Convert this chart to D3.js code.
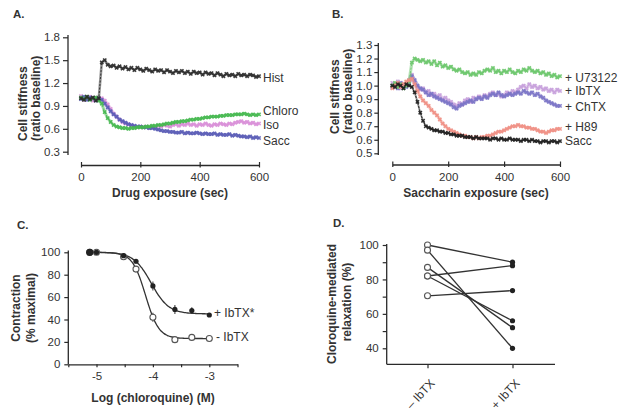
<!DOCTYPE html>
<html><head><meta charset="utf-8">
<script src="https://cdn.jsdelivr.net/npm/d3@7"></script>
<style>
body{margin:0;background:#fff}
svg{display:block;font-family:"Liberation Sans",Arial,sans-serif}
</style></head><body>
<svg id="c" width="624" height="411"></svg>
<script>
// ---------- Panel A data (sampled every 10 s, 0..600) ----------
const timesA = d3.range(0, 601, 10);
const histA = [
1.00,0.98,1.02,0.99,1.01,0.97,1.00,1.47,1.50,1.44,
1.42,1.43,1.40,1.42,1.39,1.41,1.38,1.40,1.37,1.40,
1.38,1.36,1.39,1.37,1.35,1.38,1.36,1.37,1.34,1.37,
1.35,1.33,1.36,1.34,1.36,1.33,1.35,1.32,1.35,1.33,
1.34,1.31,1.34,1.32,1.33,1.30,1.33,1.31,1.29,1.32,
1.30,1.31,1.29,1.32,1.30,1.31,1.29,1.31,1.30,1.28,
1.29];
const chloroA = [
1.01,0.99,1.02,0.98,1.00,1.01,0.97,0.93,0.82,0.74,
0.69,0.65,0.63,0.62,0.61,0.61,0.60,0.61,0.61,0.62,
0.62,0.62,0.63,0.63,0.64,0.64,0.65,0.65,0.66,0.67,
0.67,0.68,0.69,0.69,0.70,0.70,0.71,0.72,0.72,0.73,
0.73,0.74,0.75,0.75,0.76,0.76,0.76,0.77,0.77,0.78,
0.78,0.78,0.79,0.79,0.79,0.80,0.79,0.78,0.79,0.78,
0.79];
const isoA = [
1.03,0.98,1.00,1.02,0.97,1.01,0.99,1.00,0.97,0.92,
0.86,0.80,0.76,0.72,0.69,0.67,0.66,0.64,0.63,0.62,
0.63,0.62,0.63,0.61,0.63,0.62,0.64,0.63,0.65,0.64,
0.63,0.65,0.66,0.64,0.66,0.65,0.67,0.65,0.66,0.64,
0.66,0.65,0.67,0.65,0.64,0.66,0.65,0.67,0.66,0.65,
0.67,0.66,0.68,0.69,0.70,0.68,0.69,0.67,0.68,0.66,
0.67];
const saccA = [
0.99,1.02,0.98,1.01,1.00,0.97,1.00,0.98,0.93,0.88,
0.83,0.79,0.76,0.72,0.70,0.68,0.66,0.65,0.64,0.63,
0.63,0.62,0.62,0.61,0.61,0.60,0.59,0.58,0.57,0.57,
0.56,0.56,0.55,0.55,0.56,0.54,0.55,0.54,0.54,0.55,
0.54,0.53,0.54,0.53,0.53,0.54,0.52,0.53,0.52,0.52,
0.53,0.51,0.52,0.51,0.50,0.50,0.49,0.50,0.48,0.49,
0.48];
const ticksAy = [0.3, 0.6, 0.9, 1.2, 1.5, 1.8];
const ticksTime = [0, 200, 400, 600];

// ---------- Panel B data ----------
const timesB = d3.range(0, 601, 10);
const u73122B = [
1.00,1.02,0.99,1.01,0.98,1.00,1.03,1.17,1.20,1.19,
1.18,1.19,1.17,1.18,1.16,1.18,1.15,1.17,1.14,1.15,
1.13,1.14,1.12,1.11,1.12,1.10,1.09,1.10,1.08,1.09,
1.08,1.10,1.09,1.11,1.12,1.11,1.13,1.10,1.11,1.09,
1.11,1.10,1.12,1.10,1.09,1.11,1.10,1.12,1.11,1.13,
1.11,1.10,1.11,1.09,1.10,1.08,1.09,1.07,1.08,1.06,
1.07];
const ibtxB = [
1.02,0.99,1.03,0.98,1.01,1.00,1.04,1.08,1.02,0.99,
0.97,0.98,0.95,0.96,0.93,0.94,0.92,0.93,0.90,0.91,
0.89,0.88,0.86,0.85,0.87,0.86,0.89,0.90,0.88,0.91,
0.90,0.92,0.91,0.93,0.92,0.94,0.95,0.93,0.94,0.92,
0.93,0.95,0.94,0.96,0.95,0.97,0.99,1.00,0.98,1.01,
0.99,1.00,0.98,0.99,0.97,0.98,0.96,0.97,0.95,0.97,
0.96];
const chtxB = [
0.99,1.01,0.98,1.02,1.00,0.99,1.02,1.07,1.04,1.00,
0.98,0.97,0.95,0.93,0.94,0.92,0.91,0.90,0.89,0.88,
0.87,0.86,0.84,0.83,0.85,0.86,0.87,0.88,0.89,0.88,
0.90,0.91,0.90,0.92,0.91,0.93,0.94,0.93,0.95,0.93,
0.92,0.93,0.94,0.93,0.94,0.95,0.94,0.96,0.95,0.94,
0.95,0.93,0.94,0.92,0.91,0.89,0.88,0.87,0.86,0.85,
0.85];
const h89B = [
0.98,1.00,1.02,0.99,1.01,1.03,1.04,1.05,1.01,0.96,
0.92,0.89,0.87,0.85,0.82,0.80,0.78,0.75,0.72,0.70,
0.68,0.67,0.66,0.65,0.64,0.63,0.63,0.62,0.62,0.61,
0.62,0.61,0.62,0.62,0.63,0.63,0.64,0.65,0.66,0.66,
0.67,0.68,0.69,0.70,0.70,0.71,0.70,0.70,0.69,0.69,
0.68,0.68,0.67,0.66,0.66,0.65,0.66,0.67,0.67,0.68,
0.68];
const saccB = [
1.00,0.99,1.01,1.00,0.98,1.01,1.00,0.99,0.95,0.88,
0.80,0.74,0.70,0.69,0.68,0.67,0.67,0.66,0.66,0.65,
0.65,0.64,0.64,0.63,0.63,0.63,0.62,0.62,0.62,0.61,
0.62,0.61,0.61,0.61,0.61,0.60,0.61,0.61,0.60,0.61,
0.60,0.60,0.61,0.60,0.60,0.60,0.59,0.60,0.60,0.59,
0.60,0.59,0.59,0.58,0.59,0.59,0.58,0.59,0.59,0.58,
0.59];
const ticksBy = [0.5, 0.6, 0.7, 0.8, 0.9, 1.0, 1.1, 1.2, 1.3];

// ---------- Panel C data ----------
const logConc = [-5.12, -5.0, -4.52, -4.3, -4.0, -3.61, -3.31, -3.0];
const plusIbTX = [100, 100, 97, 92, 70, 49, 48, 44];
const plusErr  = [0, 0, 2, 2, 4, 4, 3, 1];
const minusIbTX = [100, 100, 96, 85, 42, 22, 24, 23];
const minusErr  = [0, 0, 2, 2, 4, 1, 1, 1];
// fitted sigmoid (top, bottom, logEC50, Hill slope) of each curve
const fitPlus  = [100, 45, -4.03, 2.8];
const fitMinus = [100, 23, -4.13, 3.7];
const ticksCx = [-5.5, -5, -4.5, -4, -3.5, -3, -2.5];
const labelsCx = [-5, -4, -3];
const ticksCy = [0, 20, 40, 60, 80, 100];

// ---------- Panel D data ----------
const groupsD = ["– IbTX", "+ IbTX"];
const beforeD = [100, 97, 87, 82, 82, 70.5];
const afterD  = [90, 40, 52, 88, 56, 73.5];
const ticksDy = [40, 50, 60, 70, 80, 90, 100];
const labelsDy = [40, 60, 80, 100];

// ---------- drawing ----------
const svg = d3.select("#c");
const TXT = "#333", AX = "#2a2a2a";
const FS = 11.5;

function styleAxis(g){
  g.select(".domain").attr("stroke", AX).attr("stroke-width", 1.3);
  g.selectAll(".tick line").attr("stroke", AX).attr("stroke-width", 1.2);
  g.selectAll(".tick text").attr("fill", TXT).style("font-size", FS + "px")
    .style("font-family", '"Liberation Sans",Arial,sans-serif');
}
function title(x, y, txt, opt = {}){
  const t = svg.append("text").attr("x", x).attr("y", y).text(txt)
    .attr("fill", opt.fill || TXT).style("font-size", (opt.fs || FS) + "px")
    .style("font-weight", opt.bold === false ? "normal" : "bold")
    .attr("text-anchor", opt.anchor || "middle");
  if (opt.rot) t.attr("transform", `rotate(${opt.rot},${x},${y})`);
  return t;
}
function drawSeries(x, y, times, vals, color, width){
  const pts = times.map((t, i) => [t, vals[i]]);
  const line = d3.line().x(d => x(d[0])).y(d => y(d[1]));
  svg.append("path").attr("d", line(pts)).attr("fill", "none")
    .attr("stroke", color).attr("stroke-width", width).attr("stroke-opacity", 0.5)
    .attr("stroke-linejoin", "round");
  svg.append("path").attr("d", line(pts)).attr("fill", "none")
    .attr("stroke", color).attr("stroke-width", 1).attr("stroke-opacity", 0.9)
    .attr("stroke-dasharray", "2,1.5");
  const sym = d3.symbol().type(d3.symbolCross).size(12);
  svg.append("g").selectAll("path").data(pts).join("path")
    .attr("d", sym).attr("transform", d => `translate(${x(d[0])},${y(d[1])}) rotate(45)`)
    .attr("fill", color).attr("fill-opacity", 0.9);
}

// ===== Panel A =====
const xA = d3.scaleLinear([0, 600], [81, 259]);
const yA = d3.scaleLinear([0.3, 1.8], [151.7, 37.3]);
{
  const gy = svg.append("g").attr("transform", "translate(68,0)")
    .call(d3.axisLeft(yA).tickValues(ticksAy).tickFormat(d3.format(".1f")).tickSize(5).tickPadding(3).tickSizeOuter(0));
  gy.select(".domain").attr("d", "M0,35V155");
  styleAxis(gy);
  const gx = svg.append("g").attr("transform", "translate(0,165)")
    .call(d3.axisBottom(xA).tickValues(ticksTime).tickSize(3).tickPadding(5).tickSizeOuter(0));
  gx.selectAll(".tick line").attr("y1", -3).attr("y2", 2.5);
  styleAxis(gx);
  drawSeries(xA, yA, timesA, isoA, "#d98fd8", 3.2);
  drawSeries(xA, yA, timesA, saccA, "#5a5cb6", 3.2);
  drawSeries(xA, yA, timesA, chloroA, "#45b84f", 3);
  drawSeries(xA, yA, timesA, histA, "#2b2b2b", 2.6);
  const lab = [["Hist", 77], ["Chloro", 110], ["Iso", 124], ["Sacc", 140]];
  lab.forEach(([t, yy]) => title(263, yy + 4.5, t, {bold: false, anchor: "start", fs: 12}));
  title(13, 18, "A.", {anchor: "start", fs: 11.5});
  title(170, 197, "Drug exposure (sec)", {fs: 12});
  title(27, 141, "Cell stiffness", {rot: -90, anchor: "start", fs: 12});
  title(40, 141, "(ratio baseline)", {rot: -90, anchor: "start", fs: 12});
}

// ===== Panel B =====
const xB = d3.scaleLinear([0, 600], [392.3, 560]);
const yB = d3.scaleLinear([0.5, 1.3], [153.3, 45]);
{
  const gy = svg.append("g").attr("transform", "translate(378.3,0)")
    .call(d3.axisLeft(yB).tickValues(ticksBy).tickFormat(d3.format(".1f")).tickSize(4).tickPadding(2).tickSizeOuter(0));
  gy.select(".domain").attr("d", "M0,43V155");
  styleAxis(gy);
  const gx = svg.append("g").attr("transform", "translate(0,164.5)")
    .call(d3.axisBottom(xB).tickValues(ticksTime).tickSize(3).tickPadding(5).tickSizeOuter(0));
  gx.selectAll(".tick line").attr("y1", -3).attr("y2", 2.5);
  styleAxis(gx);
  drawSeries(xB, yB, timesB, ibtxB, "#c7a0dc", 3.8);
  drawSeries(xB, yB, timesB, chtxB, "#7b74c6", 3.8);
  drawSeries(xB, yB, timesB, u73122B, "#6cc66c", 3.2);
  drawSeries(xB, yB, timesB, h89B, "#ef8f84", 3.2);
  drawSeries(xB, yB, timesB, saccB, "#1e1e1e", 1.8);
  const lab = [["+ U73122", 77], ["+ IbTX", 90], ["+ ChTX", 106], ["+ H89", 126.5], ["Sacc", 140.5]];
  lab.forEach(([t, yy]) => title(565, yy + 4.5, t, {bold: false, anchor: "start", fs: 12}));
  title(332, 18, "B.", {anchor: "start", fs: 11.5});
  title(476, 197, "Saccharin exposure (sec)", {fs: 12});
  title(339, 134, "Cell stiffness", {rot: -90, anchor: "start", fs: 12});
  title(351.5, 134, "(ratio baseline)", {rot: -90, anchor: "start", fs: 12});
}

// ===== Panel C =====
const xC = d3.scaleLinear([-5.5, -2.5], [68.3, 237.5]);
const yC = d3.scaleLinear([0, 100], [364.3, 252.3]);
{
  const gy = svg.append("g").attr("transform", "translate(68.3,0)")
    .call(d3.axisLeft(yC).tickValues(ticksCy).tickSize(4).tickPadding(4).tickSizeOuter(0));
  gy.select(".domain").attr("d", "M0,250.5V364.3");
  styleAxis(gy);
  const gx = svg.append("g").attr("transform", "translate(0,364.3)")
    .call(d3.axisBottom(xC).tickValues(ticksCx).tickSize(3).tickPadding(5).tickSizeOuter(0)
      .tickFormat(d => labelsCx.includes(d) ? d3.format("d")(d).replace("−", "-") : ""));
  styleAxis(gx);
  const hill = p => v => p[1] + (p[0] - p[1]) / (1 + Math.pow(10, (v - p[2]) * p[3]));
  const grid = d3.range(logConc[0], logConc[logConc.length - 1] + 0.001, 0.02);
  const line = d3.line().x(d => xC(d)).curve(d3.curveMonotoneX);
  svg.append("path").attr("d", line.y(d => yC(hill(fitPlus)(d)))(grid))
    .attr("fill", "none").attr("stroke", "#333").attr("stroke-width", 1.3);
  svg.append("path").attr("d", line.y(d => yC(hill(fitMinus)(d)))(grid))
    .attr("fill", "none").attr("stroke", "#333").attr("stroke-width", 1.3);
  const eb = (vals, errs) => svg.append("g").selectAll("line").data(logConc.map((c, i) => [c, vals[i], errs[i]]).filter(d => d[2] > 0))
    .join("line").attr("x1", d => xC(d[0])).attr("x2", d => xC(d[0]))
    .attr("y1", d => yC(d[1] - d[2])).attr("y2", d => yC(d[1] + d[2]))
    .attr("stroke", "#444").attr("stroke-width", 1.1);
  eb(minusIbTX, minusErr); eb(plusIbTX, plusErr);
  svg.append("g").selectAll("circle").data(logConc.map((c, i) => [c, minusIbTX[i]]))
    .join("circle").attr("cx", d => xC(d[0])).attr("cy", d => yC(d[1])).attr("r", 3)
    .attr("fill", "#fff").attr("stroke", "#555").attr("stroke-width", 1.1);
  svg.append("g").selectAll("circle").data(logConc.map((c, i) => [c, plusIbTX[i]]))
    .join("circle").attr("cx", d => xC(d[0])).attr("cy", d => yC(d[1])).attr("r", (d, i) => i === 0 ? 3.6 : 2.6)
    .attr("fill", "#222");
  title(214, 317, "+ IbTX*", {bold: false, anchor: "start", fs: 12});
  title(216, 341, "- IbTX", {bold: false, anchor: "start", fs: 12});
  title(17, 229, "C.", {anchor: "start", fs: 11.5});
  title(153, 402, "Log (chloroquine) (M)", {fs: 12});
  title(19.5, 308, "Contraction", {rot: -90, fs: 12});
  title(35, 308, "(% maximal)", {rot: -90, fs: 12, bold: true});
}

// ===== Panel D =====
const xD = d3.scalePoint(groupsD, [385, 555]).padding(0.5);
const yD = d3.scaleLinear([30.7, 100], [364.3, 245]);
{
  const gy = svg.append("g").attr("transform", "translate(386.7,0)")
    .call(d3.axisLeft(yD).tickValues(ticksDy).tickSize(4).tickPadding(4).tickSizeOuter(0)
      .tickFormat(d => labelsDy.includes(d) ? d : ""));
  gy.select(".domain").attr("d", "M0,244V364.3");
  styleAxis(gy);
  const gx = svg.append("g").attr("transform", "translate(0,364.3)")
    .call(d3.axisBottom(xD).tickSize(4).tickSizeOuter(0).tickFormat(""));
  gx.select(".domain").attr("d", "M386.7,0H555");
  styleAxis(gx);
  groupsD.forEach(gname => {
    const x = xD(gname) + 5, y = 381;
    svg.append("text").attr("x", x).attr("y", y).attr("dy", "0.35em").text(gname)
      .attr("text-anchor", "end").attr("fill", TXT).style("font-size", "12px")
      .attr("transform", `rotate(-47,${x},${y})`);
  });
  const pairs = beforeD.map((b, i) => [b, afterD[i]]);
  svg.append("g").selectAll("line").data(pairs).join("line")
    .attr("x1", xD(groupsD[0])).attr("x2", xD(groupsD[1]))
    .attr("y1", d => yD(d[0])).attr("y2", d => yD(d[1]))
    .attr("stroke", "#333").attr("stroke-width", 1.3);
  svg.append("g").selectAll("circle").data(beforeD).join("circle")
    .attr("cx", xD(groupsD[0])).attr("cy", d => yD(d)).attr("r", 3)
    .attr("fill", "#fff").attr("stroke", "#555").attr("stroke-width", 1.1);
  svg.append("g").selectAll("circle").data(afterD).join("circle")
    .attr("cx", xD(groupsD[1])).attr("cy", d => yD(d)).attr("r", 2.6).attr("fill", "#222");
  title(333, 227, "D.", {anchor: "start", fs: 11.5});
  title(336, 304, "Cloroquine-mediated", {rot: -90, fs: 12});
  title(351, 302, "relaxation (%)", {rot: -90, fs: 12});
}
</script></body></html>
